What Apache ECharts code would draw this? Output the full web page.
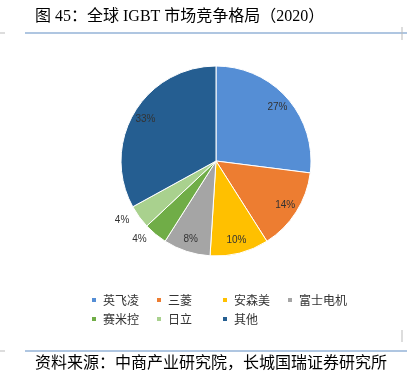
<!DOCTYPE html>
<html><head><meta charset="utf-8">
<script src="https://cdn.jsdelivr.net/npm/echarts@6/dist/echarts.min.js"></script>
<style>html,body{margin:0;padding:0;background:#fff}#c{width:413px;height:377px}</style>
</head><body><div id="c"></div>
<script>
var categories = ['英飞凌','三菱','安森美','富士电机','赛米控','日立','其他'];
var shares = [27, 14, 10, 8, 4, 4, 33];
var colors = ['#558ED5','#ED7D31','#FFC000','#A5A5A5','#70AD47','#A9D18E','#255E91'];
var outsideLabel = [false,false,false,false,true,true,false];
var legendColumns = [['英飞凌','赛米控'],['三菱','日立'],['安森美','其他'],['富士电机']];
var legendLeft = [85, 150, 216, 281];

var chart = echarts.init(document.getElementById('c'), null, {renderer:'canvas'});
var pieData = categories.map(function(n,i){return {name:n, value:shares[i], itemStyle:{color:colors[i]}};});
var labelData = categories.map(function(n,i){
  var d = {name:n, value:shares[i], itemStyle:{color:'rgba(0,0,0,0)'}};
  if (outsideLabel[i]) d.label = {position:'outside', distance: 8};
  return d;
});
var font = '"Liberation Sans", Arial, sans-serif';
var legends = legendColumns.map(function(col,k){
  return {data: col, orient:'vertical', left: legendLeft[k], top: 289, itemWidth:6, itemHeight:6, itemGap:7,
    icon:'rect', selectedMode:false,
    textStyle:{fontSize:12, color:'#333', fontFamily:'"Noto Sans CJK SC", sans-serif', padding:[0,0,0,1]}};
});
chart.setOption({
  animation:false,
  color: colors,
  legend: legends,
  graphic: [
    {type:'text', left:35, top:9, style:{text:'图 45：全球 IGBT 市场竞争格局（2020）', fontSize:16, fill:'#000', fontFamily:'"Liberation Serif", "Noto Sans CJK SC", serif'}},
    {type:'line', shape:{x1:25,y1:33,x2:407,y2:33}, style:{stroke:'#95B3D7', lineWidth:1.5}},
    {type:'line', shape:{x1:0,y1:33,x2:5,y2:33}, style:{stroke:'#bbb', lineWidth:1}},
    {type:'line', shape:{x1:402,y1:27,x2:402,y2:40}, style:{stroke:'#bbb', lineWidth:1}},
    {type:'line', shape:{x1:25,y1:351,x2:407,y2:351}, style:{stroke:'#95B3D7', lineWidth:1.5}},
    {type:'line', shape:{x1:0,y1:351,x2:5,y2:351}, style:{stroke:'#bbb', lineWidth:1}},
    {type:'line', shape:{x1:402,y1:330,x2:402,y2:342}, style:{stroke:'#bbb', lineWidth:1}},
    {type:'text', left:35, top:354, style:{text:'资料来源：中商产业研究院，长城国瑞证券研究所', fontSize:16, fill:'#000', fontFamily:'"Noto Sans CJK SC", sans-serif'}}
  ],
  series: [
    {type:'pie', center:[216,161], radius:[0,95], startAngle:90, clockwise:true, silent:true,
     itemStyle:{borderColor:'#fff', borderWidth:1}, label:{show:false}, labelLine:{show:false},
     data: pieData},
    {type:'pie', center:[216,161], radius:[63,95], startAngle:90, clockwise:true, silent:true,
     label:{show:true, position:'inside', formatter:'{c}%', fontSize:10, color:'#333', fontFamily:font},
     labelLine:{show:false, length:6, length2:0},
     data: labelData}
  ]
});
</script></body></html>
